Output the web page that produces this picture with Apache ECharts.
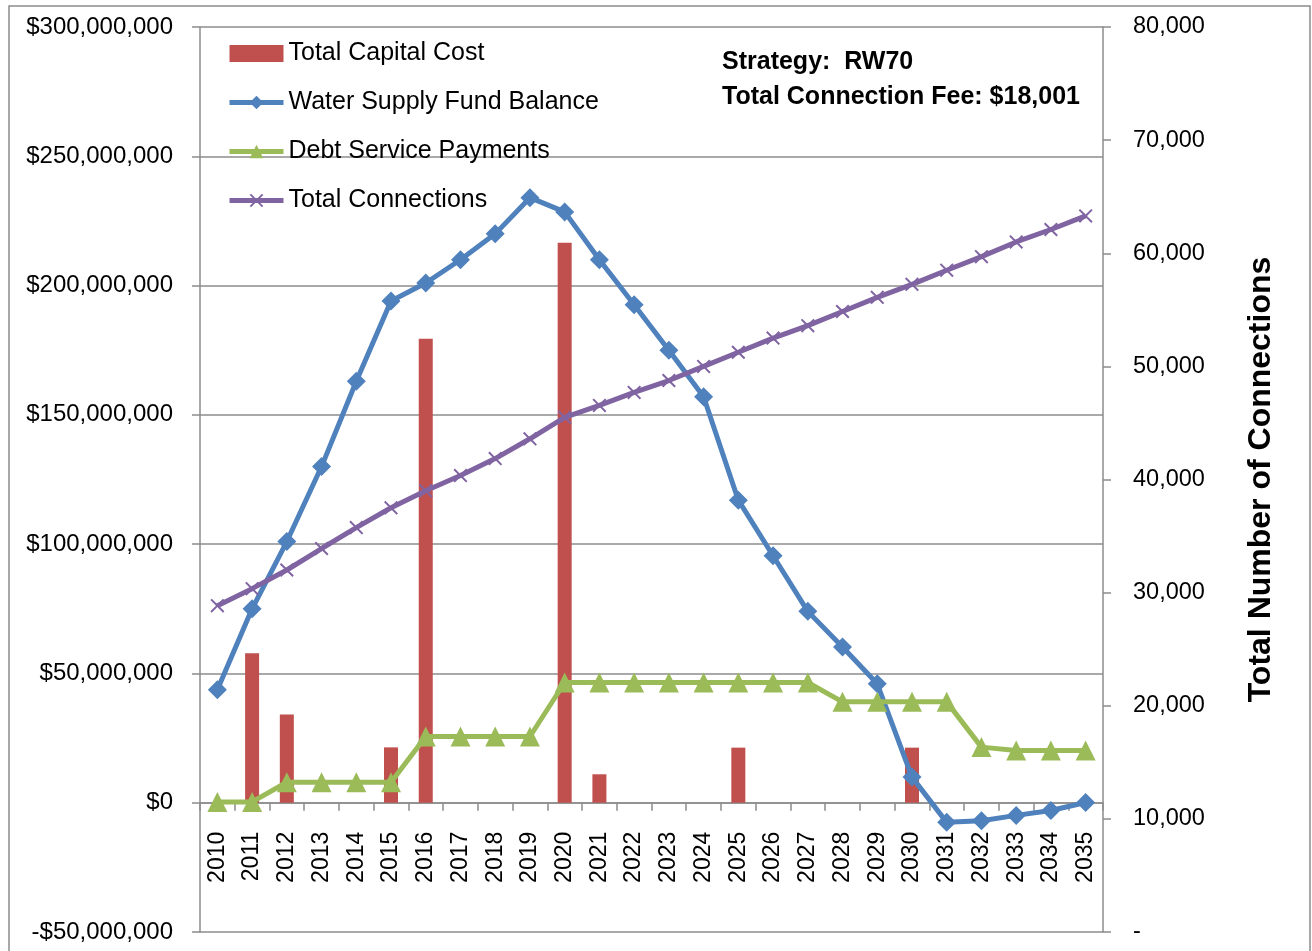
<!DOCTYPE html>
<html>
<head>
<meta charset="utf-8">
<script src="https://cdn.jsdelivr.net/npm/echarts@6/dist/echarts.min.js"></script>
<style>
  html, body { margin: 0; padding: 0; background: #fff; }
  #chart { width: 1312px; height: 951px; }
</style>
</head>
<body>
<div id="chart"></div>
<script>
// dados do grafico
const anos = ["2010","2011","2012","2013","2014","2015","2016","2017","2018","2019","2020","2021","2022",
              "2023","2024","2025","2026","2027","2028","2029","2030","2031","2032","2033","2034","2035"];

// custo de capital ($)
const custoCapital = [0, 57.8e6, 34.1e6, 0, 0, 21.4e6, 179.4e6, 0, 0, 0, 216.6e6, 11e6, 0,
                      0, 0, 21.3e6, 0, 0, 0, 0, 21.3e6, 0, 0, 0, 0, 0];

// saldo do fundo ($)
const saldoFundo = [43.7e6, 75e6, 101e6, 130e6, 163e6, 194e6, 201e6, 210e6, 220e6, 234e6, 228.5e6, 210e6, 192.6e6,
                    175e6, 157e6, 117e6, 95.5e6, 74e6, 60.2e6, 46e6, 9.9e6, -7.6e6, -7e6, -4.9e6, -3e6, 0.1e6];

// pagamentos da divida ($)
const pagamentosDivida = [0.3e6, 0.3e6, 7.9e6, 7.9e6, 7.9e6, 7.9e6, 25.6e6, 25.6e6, 25.6e6, 25.6e6, 46.5e6, 46.5e6, 46.5e6,
                          46.5e6, 46.5e6, 46.5e6, 46.5e6, 46.5e6, 39e6, 39e6, 39e6, 39e6, 21.5e6, 20.2e6, 20.2e6, 20.2e6];

// conexoes totais (eixo direito)
const conexoes = [28850, 30350, 32000, 33900, 35750, 37500, 39000, 40350, 41850, 43600, 45500, 46550, 47700,
                  48750, 50000, 51250, 52500, 53600, 54850, 56100, 57250, 58500, 59700, 61000, 62100, 63300];

const fonte = "'Liberation Sans', Arial, sans-serif";
const cinza = "#8c8c8c";

const yMin = -50e6, yMax = 300e6;
const gradeTopo = 27, gradeBase = 19, alturaTela = 951;
// deslocamento do eixo x ate o zero do eixo esquerdo
const alturaPlot = alturaTela - gradeTopo - gradeBase;
const deslocZero = alturaPlot * (0 - yMin) / (yMax - yMin);

function formatarDolar(v) {
    let s = "$" + Math.abs(v).toLocaleString("en-US");
    return v < 0 ? "-" + s : s;
}

let grafico = echarts.init(document.getElementById("chart"));

let option = {
    animation: false,
    textStyle: { fontFamily: fonte },
    grid: { left: 200, right: 209, top: gradeTopo, bottom: gradeBase, outerBoundsMode: "none", containLabel: false },
    legend: {
        orient: "vertical",
        left: 222,
        top: 36,
        itemGap: 24,
        itemWidth: 54,
        itemHeight: 17,
        lineStyle: { width: 5 },
        textStyle: { fontSize: 25, color: "#000", fontFamily: fonte },
        data: [
            { name: "Total Capital Cost", icon: "rect" },
            "Water Supply Fund Balance",
            "Debt Service Payments",
            "Total Connections"
        ]
    },
    xAxis: {
        type: "category",
        data: anos,
        position: "bottom",
        offset: -deslocZero,
        axisLine: { onZero: false, lineStyle: { color: cinza, width: 1.5 } },
        axisTick: { show: true, length: 8, lineStyle: { color: cinza, width: 1.5 } },
        axisLabel: { rotate: 90, margin: 29, fontSize: 23, color: "#000", fontFamily: fonte, interval: 0 }
    },
    yAxis: [
        {
            type: "value",
            min: yMin,
            max: yMax,
            interval: 50e6,
            axisLine: { show: true, lineStyle: { color: cinza, width: 1.5 } },
            axisTick: { show: true, length: 8, lineStyle: { color: cinza, width: 1.5 } },
            splitLine: { show: true, lineStyle: { color: cinza, width: 1.5 } },
            axisLabel: { margin: 27, fontSize: 24, color: "#000", fontFamily: fonte, formatter: formatarDolar }
        },
        {
            type: "value",
            min: 0,
            max: 80000,
            interval: 10000,
            position: "right",
            name: "Total Number of Connections",
            nameLocation: "middle",
            nameRotate: 90,
            nameGap: 142,
            nameTextStyle: { fontSize: 32, fontWeight: "bold", color: "#000", fontFamily: fonte },
            axisLine: { show: true, lineStyle: { color: cinza, width: 1.5 } },
            axisTick: { show: true, length: 8, lineStyle: { color: cinza, width: 1.5 } },
            splitLine: { show: false },
            axisLabel: {
                margin: 30, fontSize: 23.5, color: "#000", fontFamily: fonte,
                formatter: v => v === 0 ? "-" : v.toLocaleString("en-US")
            }
        }
    ],
    series: [
        {
            name: "Total Capital Cost",
            type: "bar",
            yAxisIndex: 0,
            barWidth: 14,
            data: custoCapital,
            itemStyle: { color: "#C0504D" }
        },
        {
            name: "Water Supply Fund Balance",
            type: "line",
            yAxisIndex: 0,
            data: saldoFundo,
            symbol: "diamond",
            symbolSize: 19,
            lineStyle: { color: "#4F81BD", width: 5 },
            itemStyle: { color: "#4F81BD" }
        },
        {
            name: "Debt Service Payments",
            type: "line",
            yAxisIndex: 0,
            data: pagamentosDivida,
            symbol: "triangle",
            symbolSize: 20,
            lineStyle: { color: "#9BBB59", width: 5 },
            itemStyle: { color: "#9BBB59" }
        },
        {
            name: "Total Connections",
            type: "line",
            yAxisIndex: 1,
            data: conexoes,
            symbol: "path://M0,1 L1,0 L5,4 L9,0 L10,1 L6,5 L10,9 L9,10 L5,6 L1,10 L0,9 L4,5 Z",
            symbolSize: 14,
            lineStyle: { color: "#8064A2", width: 5 },
            itemStyle: { color: "#8064A2" }
        }
    ],
    graphic: [
        {
            type: "rect",
            shape: { x: 9, y: 6, width: 1301, height: 970 },
            style: { fill: "none", stroke: cinza, lineWidth: 1.5 },
            silent: true
        },
        {
            type: "text",
            left: 722,
            top: 50,
            style: { text: "Strategy:  RW70", font: "bold 25px " + fonte, fill: "#000" }
        },
        {
            type: "text",
            left: 722,
            top: 85,
            style: { text: "Total Connection Fee: $18,001", font: "bold 25px " + fonte, fill: "#000" }
        }
    ]
};

grafico.setOption(option);
</script>
</body>
</html>
